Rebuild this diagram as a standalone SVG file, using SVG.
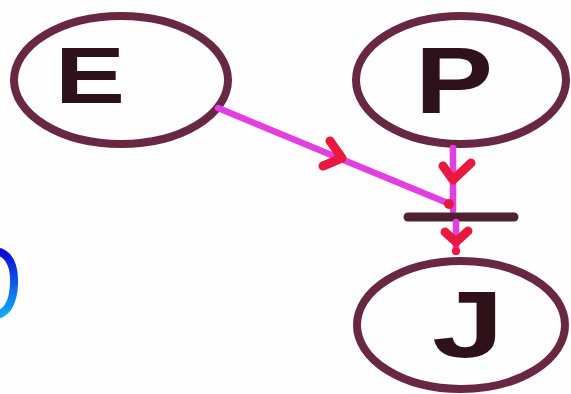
<svg xmlns="http://www.w3.org/2000/svg" width="571" height="394" viewBox="0 0 571 394">
  <defs>
    <linearGradient id="blue" x1="0" y1="0" x2="0" y2="1">
      <stop offset="0" stop-color="#0a0ad8"/>
      <stop offset="1" stop-color="#12a8f5"/>
    </linearGradient>
    <style>
      .node { fill: none; stroke: #682743; stroke-width: 8; }
      .lbl { font-family: "Liberation Sans", Arial, sans-serif; font-weight: bold; fill: #2e1119; text-anchor: middle; }
      .wire { fill: none; stroke: #e23fe0; stroke-width: 6.5; stroke-linecap: round; }
      .head { fill: none; stroke: #e8183e; stroke-width: 9; stroke-linecap: round; stroke-linejoin: round; }
      .bar { stroke: #4e2233; stroke-width: 9; stroke-linecap: round; }
    </style>
  </defs>
  <rect width="571" height="394" fill="#fefefe"/>

  <g id="node-E">
    <ellipse class="node" cx="121" cy="80" rx="107" ry="64"/>
    <text class="lbl" x="90" y="103" font-size="80" textLength="70" lengthAdjust="spacingAndGlyphs">E</text>
  </g>
  <g id="node-P">
    <ellipse class="node" cx="461" cy="80" rx="105" ry="64"/>
    <text class="lbl" x="454" y="113" font-size="94" textLength="78" lengthAdjust="spacingAndGlyphs">P</text>
  </g>
  <g id="node-J">
    <ellipse class="node" cx="461" cy="325" rx="104" ry="64"/>
    <text class="lbl" x="468" y="357" font-size="95" textLength="72" lengthAdjust="spacingAndGlyphs">J</text>
  </g>

  <g id="connectors">
    <line class="wire" x1="218" y1="108" x2="450" y2="204"/>
    <polyline class="head" points="330,141 342,158 323,166"/>
    <line class="wire" x1="453" y1="148" x2="453" y2="210"/>
    <polyline class="head" points="443,166 453,180 471,163"/>
    <line class="bar" x1="408" y1="217" x2="514" y2="217"/>
    <line class="wire" x1="456" y1="222" x2="456" y2="252"/>
    <polyline class="head" points="445,232 456,242 468,231"/>
    <circle cx="449" cy="204" r="5" fill="#e8183e"/>
    <circle cx="456" cy="251" r="4" fill="#e8183e"/>
  </g>

  <path d="M0,252 Q15,258 14,284 Q13,308 0,314" fill="none" stroke="url(#blue)" stroke-width="8" stroke-linecap="round"/>
</svg>
